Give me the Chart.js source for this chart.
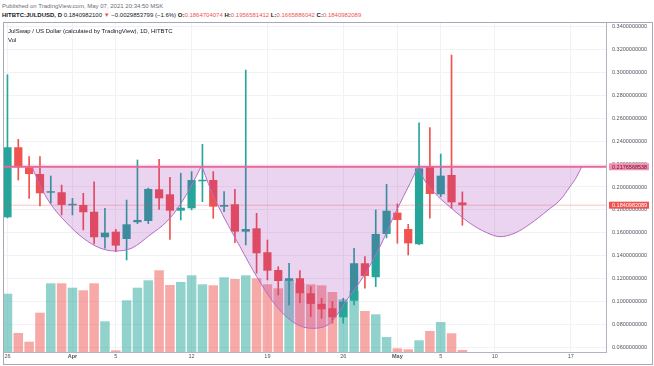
<!DOCTYPE html>
<html>
<head>
<meta charset="utf-8">
<script src="https://cdn.jsdelivr.net/npm/chart.js@4.4.0/dist/chart.umd.min.js"></script>
<style>
  body { margin: 0; background: #fff; width: 654px; height: 366px; overflow: hidden; position: relative; font-family: "Liberation Sans", Arial, sans-serif; }
  .hdr { position: absolute; left: 2px; white-space: nowrap; font-size: 6px; line-height: 7px; color: #131722; }
  #pub { top: 3px; color: #6a6d78; }
  #ohlc { top: 12px; }
  .r { color: #ef5350; }
  #frame { position: absolute; left: 3px; top: 22px; width: 650px; height: 343px; box-sizing: border-box; border: 1px solid #a7aab2; }
  #frame canvas { position: absolute; left: 0; top: 0; }
  .lbl { position: absolute; left: 4px; font-size: 6px; line-height: 7px; color: #131722; white-space: nowrap; }
</style>
</head>
<body>
<div class="hdr" id="pub">Published on TradingView.com, May 07, 2021 20:34:50 MSK</div>
<div class="hdr" id="ohlc"><b>HITBTC:JULDUSD, D</b> 0.1840982100 <span class="r">▼</span> −0.0029853799 (−1.6%) <b>O:</b><span class="r">0.1864704074</span> <b>H:</b><span class="r">0.1956581412</span> <b>L:</b><span class="r">0.1665886042</span> <b>C:</b><span class="r">0.1840982089</span></div>
<div id="frame">
  <canvas id="chart" width="648" height="341"></canvas>
  <div class="lbl" style="top:5px">JulSwap / US Dollar (calculated by TradingView), 1D, HITBTC</div>
  <div class="lbl" style="top:14px">Vol</div>
</div>
<script>
// daily candles, 26 Mar .. 7 May 2021 (index 0 = 26 Mar)
const opens  = [0.1735, 0.2347, 0.2172, 0.2113, 0.1950, 0.1954, 0.1840, 0.1843, 0.1784, 0.1561,
                0.1610, 0.1546, 0.1692, 0.1703, 0.1980, 0.1936, 0.1793, 0.1814, 0.2050, 0.2061,
                0.1828, 0.1849, 0.1610, 0.1639, 0.1430, 0.1275, 0.1180, 0.1203, 0.1072, 0.0979,
                0.0941, 0.0862, 0.1007, 0.1334, 0.1212, 0.1590, 0.1776, 0.1633, 0.1500, 0.2177,
                0.1936, 0.2105, 0.1865];
const highs  = [0.2980, 0.2416, 0.2265, 0.2265, 0.2096, 0.2017, 0.1901, 0.1945, 0.2046, 0.1814,
                0.1630, 0.1886, 0.2236, 0.1990, 0.2242, 0.2085, 0.2120, 0.2134, 0.2373, 0.2134,
                0.1959, 0.1980, 0.3021, 0.1770, 0.1537, 0.1304, 0.1334, 0.1269, 0.1130, 0.1028,
                0.1000, 0.1028, 0.1465, 0.1392, 0.1799, 0.2024, 0.1852, 0.1674, 0.2561, 0.2518,
                0.2288, 0.3152, 0.1957];
const lows   = [0.1730, 0.2061, 0.1901, 0.1834, 0.1858, 0.1756, 0.1756, 0.1625, 0.1502, 0.1465,
                0.1435, 0.1363, 0.1680, 0.1680, 0.1805, 0.1543, 0.1712, 0.1800, 0.1872, 0.1727,
                0.1784, 0.1514, 0.1494, 0.1247, 0.1188, 0.1057, 0.0970, 0.0990, 0.0868, 0.0853,
                0.0810, 0.0810, 0.0970, 0.1116, 0.1130, 0.1555, 0.1509, 0.1406, 0.1497, 0.1727,
                0.1915, 0.1814, 0.1666];
const closes = [0.2347, 0.2172, 0.2113, 0.1945, 0.1955, 0.1843, 0.1845, 0.1779, 0.1561, 0.1601,
                0.1488, 0.1674, 0.1712, 0.1983, 0.1901, 0.1793, 0.1819, 0.2061, 0.2055, 0.1828,
                0.1843, 0.1610, 0.1633, 0.1421, 0.1269, 0.1179, 0.1203, 0.1072, 0.0979, 0.0932,
                0.0862, 0.0999, 0.1334, 0.1223, 0.1590, 0.1793, 0.1712, 0.1508, 0.2163, 0.1939,
                0.2099, 0.1866, 0.1841];
const volumes = [583, 190, 103, 393, 687, 687, 643, 617, 687, 307,
                 17, 517, 643, 717, 817, 670, 700, 767, 677, 667,
                 747, 730, 767, 737, 677, 637, 717, 687, 677, 667,
                 600, 527, 610, 410, 377, 150, 37, 27, 117, 210,
                 300, 187, 20];

const xTickIdx = [0, 6, 10, 17, 24, 31, 36, 40, 45, 52];
const xTickLabels = ['26', 'Apr', '5', '12', '19', '26', 'May', '5', '10', '17'];
const yTicks = [0.06, 0.08, 0.10, 0.12, 0.14, 0.16, 0.18, 0.20, 0.22, 0.24, 0.26, 0.28, 0.30, 0.32, 0.34];

const levelPrice = 0.2176568538;
const lastClose = 0.1840982089;

// cup and handle arcs drawn on the chart: [day index, price]
const arcCupLeft = [[2.26, 0.2177], [3.00, 0.2017], [3.92, 0.1860], [5.47, 0.1686], [6.97, 0.1555],
                    [8.54, 0.1467], [9.97, 0.1441], [11.50, 0.1467], [13.16, 0.1581], [14.70, 0.1697],
                    [15.93, 0.1843], [17.01, 0.2017], [17.87, 0.2177]];
const arcCupMain = [[17.96, 0.2177], [18.54, 0.2032], [19.32, 0.1860], [21.47, 0.1479], [23.01, 0.1217],
                    [24.86, 0.0955], [26.55, 0.0810], [28.09, 0.0766], [29.78, 0.0810], [31.32, 0.1013],
                    [32.85, 0.1217], [34.39, 0.1479], [35.94, 0.1799], [37.17, 0.2032], [37.90, 0.2177]];
const arcHandle  = [[37.90, 0.2177], [38.55, 0.2052], [39.32, 0.1959], [40.86, 0.1825], [42.71, 0.1683],
                    [44.25, 0.1601], [45.48, 0.1566], [46.86, 0.1598], [48.25, 0.1677], [49.91, 0.1799],
                    [51.02, 0.1886], [51.94, 0.2003], [52.56, 0.2090], [53.02, 0.2177]];

const X_MIN = -0.32, X_MAX = 55.26;
const FONT = '"Liberation Sans", Arial, sans-serif';
const UP = '#26a69a', DOWN = '#ef5350';
const UP_VOL = 'rgba(38,166,154,0.5)', DOWN_VOL = 'rgba(239,83,80,0.5)';

const isUp = closes.map((c, i) => c >= opens[i]);

function arcDataset(points) {
  return {
    type: 'line',
    data: points.map(p => ({ x: p[0], y: p[1] })),
    borderColor: '#b56dc4',
    borderWidth: 1,
    backgroundColor: 'rgba(156,39,176,0.2)',
    fill: { value: levelPrice },
    pointRadius: 0,
    cubicInterpolationMode: 'monotone',
    yAxisID: 'y',
    order: 1
  };
}

// price tags on the right scale
const priceTags = {
  id: 'priceTags',
  afterDraw(chart) {
    const ys = chart.scales.y;
    const ctx = chart.ctx;
    ctx.save();
    [[levelPrice, '#f48fb1', '#5b1530'], [lastClose, '#ef5350', '#ffffff']].forEach(([v, bg, fg]) => {
      const py = ys.getPixelForValue(v);
      ctx.fillStyle = bg;
      ctx.fillRect(ys.left + 3, py - 3.5, 40, 7);
      ctx.fillStyle = fg;
      ctx.font = '5.5px ' + FONT;
      ctx.textBaseline = 'middle';
      ctx.textAlign = 'left';
      ctx.fillText(v.toFixed(10), ys.left + 6, py + 0.3);
    });
    ctx.restore();
  }
};

new Chart(document.getElementById('chart'), {
  type: 'bar',
  data: {
    datasets: [
      {
        data: volumes.map((v, i) => ({ x: i, y: v })),
        backgroundColor: isUp.map(u => u ? UP_VOL : DOWN_VOL),
        yAxisID: 'yVol',
        grouped: false,
        categoryPercentage: 1,
        barPercentage: 0.88,
        order: 5
      },
      {
        data: lows.map((l, i) => ({ x: i, y: [l, highs[i]] })),
        backgroundColor: isUp.map(u => u ? UP : DOWN),
        yAxisID: 'y',
        grouped: false,
        barThickness: 1,
        order: 4
      },
      {
        data: opens.map((o, i) => ({ x: i, y: [o, closes[i]] })),
        backgroundColor: isUp.map(u => u ? UP : DOWN),
        yAxisID: 'y',
        grouped: false,
        categoryPercentage: 1,
        barPercentage: 0.76,
        minBarLength: 1.5,
        order: 3
      },
      {
        type: 'line',
        data: [{ x: X_MIN, y: lastClose }, { x: X_MAX, y: lastClose }],
        borderColor: 'rgba(239,83,80,0.35)',
        borderWidth: 1,
        pointRadius: 0,
        yAxisID: 'y',
        order: 2
      },
      arcDataset(arcCupLeft),
      arcDataset(arcCupMain),
      arcDataset(arcHandle),
      {
        type: 'line',
        data: [{ x: X_MIN, y: levelPrice }, { x: X_MAX, y: levelPrice }],
        borderColor: '#ec6497',
        borderWidth: 2,
        pointRadius: 0,
        yAxisID: 'y',
        order: 0
      }
    ]
  },
  options: {
    responsive: false,
    animation: false,
    layout: { padding: 0 },
    plugins: { legend: { display: false }, tooltip: { enabled: false } },
    scales: {
      x: {
        type: 'linear',
        min: X_MIN,
        max: X_MAX,
        offset: false,
        grid: { color: '#f0f2f5', drawTicks: false, offset: false },
        border: { display: true, color: '#b2b5be' },
        afterBuildTicks: s => { s.ticks = xTickIdx.map(v => ({ value: v })); },
        afterFit: s => { s.height = 12; s.paddingLeft = 0; s.paddingRight = 0; },
        ticks: {
          autoSkip: false,
          maxRotation: 0,
          minRotation: 0,
          padding: 1,
          color: '#50535e',
          font: ctx => ({ family: FONT, size: 5.5, weight: /[A-Za-z]/.test(xTickLabels[ctx.index] || '') ? 'bold' : 'normal' }),
          callback: (v, i) => xTickLabels[i]
        }
      },
      y: {
        position: 'right',
        min: 0.0559,
        max: 0.3432,
        grid: { color: '#f0f2f5', drawTicks: false },
        border: { display: true, color: '#b2b5be' },
        afterBuildTicks: s => { s.ticks = yTicks.map(v => ({ value: v })); },
        afterFit: s => { s.width = 46; s.paddingTop = 0; s.paddingBottom = 0; },
        ticks: {
          padding: 6,
          color: '#50535e',
          font: { family: FONT, size: 5.5 },
          callback: v => v.toFixed(10)
        }
      },
      yVol: {
        display: false,
        min: 0,
        max: 3290
      }
    }
  },
  plugins: [priceTags]
});
</script>
</body>
</html>
